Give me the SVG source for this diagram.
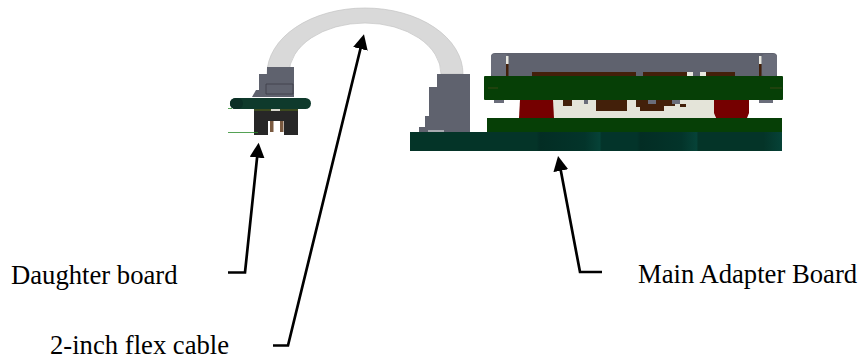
<svg xmlns="http://www.w3.org/2000/svg" width="862" height="360" viewBox="0 0 862 360">
<defs>
<style>
.lbl{font-family:"Liberation Serif","Times New Roman",serif;font-size:26.67px;fill:#000}
.ld{fill:none;stroke:#000;stroke-width:2.7;stroke-linejoin:miter;marker-end:url(#ah)}
.g{fill:#063f06}.r{fill:#750000}.b{fill:#43200a}.s{fill:#5f626e}.m{fill:#6a6d7a}
</style>
<marker id="ah" markerUnits="userSpaceOnUse" markerWidth="16" markerHeight="16" refX="5" refY="7.5" orient="auto"><path d="M0 0L15 7.5L0 15Z" fill="#000"/></marker>
<linearGradient id="tl" x1="0" x2="1" y1="0" y2="0">
<stop offset="0" stop-color="#043428"/><stop offset=".34" stop-color="#043428"/><stop offset=".35" stop-color="#032d24"/><stop offset=".47" stop-color="#03342a"/><stop offset=".51" stop-color="#064237"/><stop offset=".515" stop-color="#03342a"/><stop offset=".61" stop-color="#03342a"/><stop offset=".62" stop-color="#032d24"/><stop offset=".73" stop-color="#03342a"/><stop offset=".77" stop-color="#064237"/><stop offset=".775" stop-color="#043428"/><stop offset=".95" stop-color="#043428"/><stop offset="1" stop-color="#064237"/>
</linearGradient>
</defs>
<g id="flex-cable"><path d="M267 74A98 66 0 0 1 463 74H441A76 51 0 0 0 289 74Z" fill="#d9d9d9" stroke="#c4c4c4" stroke-width=".7"/></g>
<g id="daughter-board">
<path class="s" d="M259 97V74H267V67H294V97Z"/>
<path d="M266 84H293V94H266Z" fill="none" stroke="#3c3e48" stroke-width=".8"/>
<path class="s" d="M252 97L256 90H262V97Z"/>
<path d="M254 110H298V135H284V121H268V135H254Z" fill="#272727"/>
<rect x="270" y="121" width="3.500" height="11" fill="#7a5a40"/><rect x="280" y="121" width="3.500" height="11" fill="#7a5a40"/>
<rect x="254" y="108" width="44" height="3" fill="#3d4a1f"/>
<rect x="230" y="98" width="81" height="11" rx="5.500" fill="#0f3a2c"/>
<rect x="230" y="98" width="13" height="11" rx="5.500" fill="#0b2f26"/>
<rect x="271" y="109" width="9" height="2" fill="#d8d8cc"/>
<path d="M228 108.500H232M228 132.500H258" stroke="#2a8a2a" stroke-width=".8" fill="none"/>
</g>
<g id="main-adapter-board">
<rect x="410" y="132" width="372" height="19" fill="url(#tl)"/>
<path class="s" d="M437 74H470V132H419V127H425V116H429V87H437Z"/>
<rect x="428" y="130" width="16" height="2" fill="#a8aab0"/>
<path class="s" d="M495 53H773Q777 53 777 57V76H491V57Q491 53 495 53Z"/>
<rect class="m" x="491" y="54" width="17" height="22" rx="3"/><rect class="m" x="762" y="54" width="15" height="22" rx="3"/>
<rect x="506" y="56" width="2.500" height="8" fill="#e8e8e0"/><rect x="506" y="64" width="2.500" height="12" fill="#43200a"/>
<rect x="759" y="56" width="2.500" height="8" fill="#e8e8e0"/><rect x="759" y="64" width="2.500" height="12" fill="#43200a"/>
<rect class="b" x="532" y="72" width="104" height="4"/><rect class="b" x="643" y="72" width="44" height="4"/><rect class="b" x="706" y="72" width="29" height="4"/>
<rect x="687" y="72" width="6" height="4" fill="#e8e8e0"/><rect x="700" y="72" width="6" height="4" fill="#e8e8e0"/>
<rect x="553" y="100" width="162" height="18" fill="#e4e4d9"/>
<path class="r" d="M520 100H553L554 118H519Z"/>
<path class="r" d="M714 100H749V113L747 118H716L714 113Z"/>
<rect class="b" x="563" y="100" width="9" height="6"/>
<rect class="m" x="584" y="100" width="4" height="4"/>
<rect class="b" x="596" y="100" width="31" height="11"/>
<path class="b" d="M636 100H675V106H664V111H640V107H636Z"/>
<rect class="m" x="648" y="100" width="8" height="4"/><rect class="m" x="672" y="100" width="8" height="4"/>
<rect class="b" x="680" y="104" width="6" height="3"/>
<rect class="m" x="494" y="100" width="10" height="3"/><rect class="m" x="759" y="100" width="14" height="3"/>
<rect class="g" x="484" y="76" width="299" height="24" rx="1"/>
<path d="M488 88H498M770 88H782" stroke="#5a4a20" stroke-width=".6"/>
<rect class="g" x="487" y="118" width="295" height="14"/>
</g>
<g id="connectors">
<path class="ld" d="M228 272.500H245L257.600 152.600"/>
<path class="ld" d="M273 345.500H288L361.600 44"/>
<path class="ld" d="M602 272H580L559.900 165.800"/>
</g>
<g id="labels">
<text class="lbl" x="11" y="284">Daughter board</text>
<text class="lbl" x="50" y="354">2-inch flex cable</text>
<text class="lbl" x="638" y="283">Main Adapter Board</text>
</g>
</svg>
